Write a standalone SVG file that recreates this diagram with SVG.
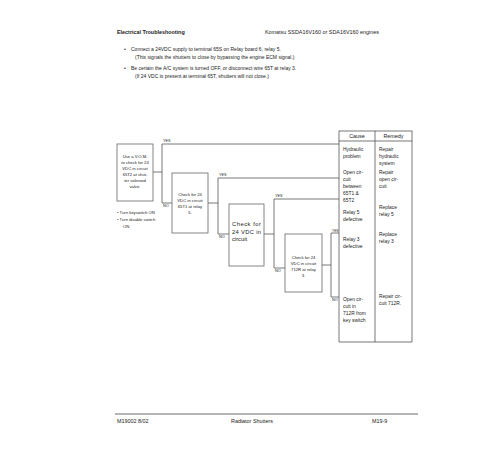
<svg xmlns="http://www.w3.org/2000/svg" width="500" height="450" viewBox="0 0 500 450">
<style>
text{font-family:"Liberation Sans",Arial,sans-serif;fill:#222}
.h{font-size:5.4px}
.hb{font-size:5.4px;font-weight:bold}
.b{font-size:5px}
.t{font-size:4.9px}
.s{font-size:4.2px}
.c{text-anchor:middle}
.lab{font-size:3.8px}
.ln{stroke:#555;stroke-width:0.8;fill:none}
.box{stroke:#666;stroke-width:0.8;fill:#fff}
</style>
<rect width="500" height="450" fill="#fff"/>
<g id="header">
<text class="hb" x="117" y="34">Electrical Troubleshooting</text>
<text class="h" x="265" y="34">Komatsu SSDA16V160 or SDA16V160 engines</text>
</g>
<g id="notes">
<text class="b" x="124" y="51">•</text>
<text class="b" x="131" y="51">Connect a 24VDC supply to terminal 65S on Relay board 6, relay 5.</text>
<text class="b" x="135" y="59">(This signals the shutters to close by bypassing the engine ECM signal.)</text>
<text class="b" x="124" y="70">•</text>
<text class="b" x="131" y="70">Be certain the A/C system is turned OFF, or disconnect wire 65T at relay 3.</text>
<text class="b" x="135" y="78">(If 24 VDC is present at terminal 65T, shutters will not close.)</text>
</g>
<g id="table">
<rect class="ln" x="339" y="131" width="73" height="10"/>
<line class="ln" x1="375" y1="131" x2="375" y2="342"/>
<polyline class="ln" points="339,141 339,342 412,342 412,141"/>
<text class="h c" x="357" y="138">Cause</text>
<text class="h c" x="393.5" y="138">Remedy</text>
<g class="t">
<text x="343" y="151">Hydraulic</text><text x="343" y="158">problem</text>
<text x="379" y="151">Repair</text><text x="379" y="158">hydraulic</text><text x="379" y="165">system</text>
<text x="343" y="174">Open cir-</text><text x="343" y="181">cuit</text><text x="343" y="188">between</text><text x="343" y="195">65T1 &amp;</text><text x="343" y="202">65T2</text>
<text x="379" y="174">Repair</text><text x="379" y="181">open cir-</text><text x="379" y="188">cuit</text>
<text x="343" y="214">Relay 5</text><text x="343" y="221">defective</text>
<text x="379" y="209">Replace</text><text x="379" y="216">relay 5</text>
<text x="343" y="241">Relay 3</text><text x="343" y="248">defective</text>
<text x="379" y="236">Replace</text><text x="379" y="243">relay 3</text>
<text x="343" y="301">Open cir-</text><text x="343" y="308">cuit in</text><text x="343" y="315">712R from</text><text x="343" y="322">key switch</text>
<text x="379" y="298">Repair cir-</text><text x="379" y="305">cuit 712R.</text>
</g>
</g>
<g id="connectors">
<line class="ln" x1="153" y1="172" x2="162" y2="172"/>
<polyline class="ln" points="339,144 162,144 162,203 172,203"/>
<line class="ln" x1="208" y1="203" x2="218" y2="203"/>
<polyline class="ln" points="339,178 218,178 218,234 229,234"/>
<line class="ln" x1="264" y1="234" x2="274" y2="234"/>
<polyline class="ln" points="339,199 274,199 274,268 285,268"/>
<line class="ln" x1="322" y1="265" x2="331" y2="265"/>
<polyline class="ln" points="339,233 331,233 331,297 339,297"/>
<text class="lab" x="163" y="142">YES</text>
<text class="lab" x="163" y="207">NO</text>
<text class="lab" x="219" y="176">YES</text>
<text class="lab" x="219" y="238">NO</text>
<text class="lab" x="275" y="197">YES</text>
<text class="lab" x="275" y="272">NO</text>
<text class="lab" x="332" y="232" textLength="6.5" lengthAdjust="spacingAndGlyphs">YES</text>
<text class="lab" x="332" y="301">NO</text>
</g>
<g id="box1">
<rect class="box" x="117" y="144" width="36" height="57"/>
<g class="s c">
<text x="135" y="158">Use a V.O.M.</text>
<text x="135" y="164">to check for 24</text>
<text x="135" y="170">VDC in circuit</text>
<text x="135" y="176">65T2 at shut-</text>
<text x="135" y="182">ter solenoid</text>
<text x="135" y="188">valve.</text>
</g>
</g>
<g id="steps">
<text class="s" x="117" y="214">•  Turn keyswitch ON</text>
<text class="s" x="117" y="221">•  Turn disable switch</text>
<text class="s" x="123" y="228">ON</text>
</g>
<g id="box2">
<rect class="box" x="172" y="173" width="36" height="60"/>
<g class="s c">
<text x="190" y="196">Check for 24</text>
<text x="190" y="202">VDC in circuit</text>
<text x="190" y="208">65T1 at relay</text>
<text x="190" y="214">5.</text>
</g>
</g>
<g id="box3">
<rect class="box" x="229" y="204" width="35" height="62"/>
<text x="232" y="226" font-size="5.8" textLength="29" lengthAdjust="spacing">Check for</text>
<text x="232" y="233.5" font-size="5.8" textLength="29" lengthAdjust="spacing">24 VDC in</text>
<text x="232" y="241" font-size="5.8">circuit</text>
</g>
<g id="box4">
<rect class="box" x="285" y="234" width="37" height="58"/>
<g class="s c">
<text x="303.5" y="259">Check for 24</text>
<text x="303.5" y="265">VDC in circuit</text>
<text x="303.5" y="271">712R at relay</text>
<text x="303.5" y="277">3.</text>
</g>
</g>
<g id="footer">
<line x1="115" y1="414" x2="418" y2="414" stroke="#444" stroke-width="0.8"/>
<text class="h" x="117" y="423">M19002  8/02</text>
<text class="h c" x="252" y="423">Radiator Shutters</text>
<text class="h" x="372" y="423">M19-9</text>
</g>
</svg>
